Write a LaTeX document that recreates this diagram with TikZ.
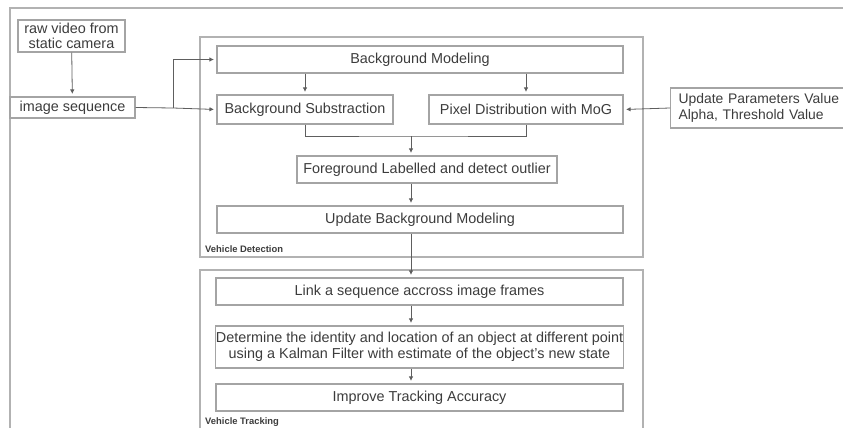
\documentclass[tikz,border=0pt]{standalone}
\usepackage{fontspec}
\setmainfont{Liberation Sans}
\usetikzlibrary{arrows.meta}
\definecolor{boxgray}{HTML}{A4A4A4}
\definecolor{linegray}{HTML}{5E5E5E}
\definecolor{framegray}{HTML}{B2B2B2}
\definecolor{textgray}{HTML}{3C3C3C}
\tikzset{
  stage/.style={draw=boxgray, line width=1.1pt, text=textgray, inner sep=0pt,
    font=\fontsize{14.4}{15.5}\selectfont, align=center},
  flow/.style={draw=linegray, line width=0.8pt, ->, shorten >=2.5pt,
    >={Latex[length=4.5pt,width=4.5pt]}},
  wire/.style={draw=linegray, line width=0.8pt},
  frame/.style={draw=framegray, line width=1.3pt},
  tag/.style={text=textgray, font=\fontsize{9.4}{10}\selectfont\bfseries, anchor=west, inner sep=0pt}
}
\begin{document}
\begin{tikzpicture}[x=1pt,y=-1pt]
  \useasboundingbox (0,0) rectangle (843,428);
  \draw[frame] (10,430) -- (10,8) -- (845,8);
  % inputs
  \node[stage, minimum width=107pt, minimum height=32pt] (raw) at (71.5,36) {raw video from\\static camera};
  \node[stage, minimum width=125pt, minimum height=21pt] (seq) at (72.5,107.5) {image sequence};
  % vehicle detection
  \draw[frame] (200,37) rectangle (643,257);
  \node[tag] (det) at (205,249) {Vehicle Detection};
  \node[stage, minimum width=406pt, minimum height=27pt] (bgm) at (420,59.5) {Background Modeling};
  \node[stage, minimum width=176pt, minimum height=29pt] (sub) at (305,109.5) {Background Substraction};
  \node[stage, minimum width=194pt, minimum height=29pt] (mog) at (526,109.5) {Pixel Distribution with MoG};
  \node[stage, minimum width=260pt, minimum height=27pt] (fgl) at (427,169.5) {Foreground Labelled and detect outlier};
  \node[stage, minimum width=406pt, minimum height=27pt] (ubm) at (420,219.5) {Update Background Modeling};
  \node[stage, font=\fontsize{13.9}{15.5}\selectfont, text width=175pt, align=left, inner xsep=8pt,
    minimum height=40pt, anchor=west] (upd) at (670,108) {Update Parameters Value\\Alpha, Threshold Value};
  % vehicle tracking
  \draw[frame] (200,432) -- (200,270) -- (643,270) -- (643,432);
  \node[tag] (trk) at (205,422) {Vehicle Tracking};
  \node[stage, minimum width=407pt, minimum height=27pt] (lnk) at (419.5,291.5) {Link a sequence accross image frames};
  \node[stage, minimum width=407pt, minimum height=42pt] (kal) at (419.5,347)
    {Determine the identity and location of an object at different point\\using a Kalman Filter with estimate of the object's new state};
  \node[stage, minimum width=407pt, minimum height=27pt] (acc) at (419.5,397.5) {Improve Tracking Accuracy};
  % connectors
  \coordinate (split) at (173,108);
  \coordinate (merge) at (411,136);
  \draw[flow] (raw) -- (seq);
  \draw[wire] (seq.east) -- (split);
  \draw[flow] (split) |- (bgm.west);
  \draw[flow] (split) -- (sub.west);
  \draw[flow] (bgm.south -| sub) -- (sub.north);
  \draw[flow] (bgm.south -| mog) -- (mog.north);
  \draw[wire] (sub.south) |- (merge) -| (mog.south);
  \draw[flow] (merge) -- (merge |- fgl.north);
  \draw[flow] (fgl.south -| merge) -- (ubm.north -| merge);
  \draw[flow] (ubm.south -| merge) -- (lnk.north -| merge);
  \draw[flow] (lnk.south -| merge) -- (kal.north -| merge);
  \draw[flow] (kal.south -| merge) -- (acc.north -| merge);
  \draw[flow] (upd.west) -- (mog.east);
\end{tikzpicture}
\end{document}
